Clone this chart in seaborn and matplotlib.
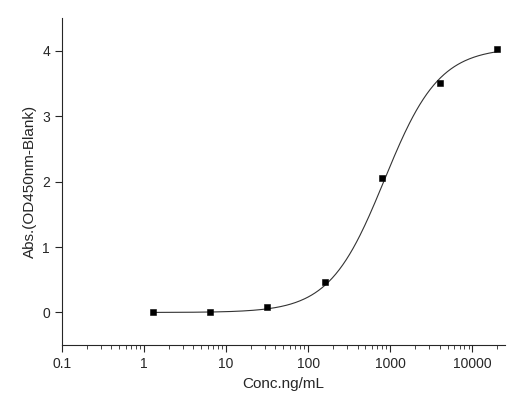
import numpy as np
import pandas as pd
import matplotlib
matplotlib.use("Agg")
import matplotlib.pyplot as plt
import seaborn as sns

# measured points
conc = [1.28, 6.4, 32, 160, 800, 4000, 20000]
absorb = [0.0, 0.0, 0.08, 0.46, 2.06, 3.5, 4.03]

# 4PL fit parameters (estimated from curve)
fit_bottom = 0.0
fit_top = 4.05
fit_ec50 = 850.0
fit_hill = 1.3

sns.set_style("ticks")
plt.rcParams["font.family"] = ["Liberation Sans", "DejaVu Sans"]

fig, ax = plt.subplots(figsize=(5.2, 4.09), dpi=100)
fig.subplots_adjust(left=0.119, right=0.971, top=0.956, bottom=0.156)

xf = np.logspace(np.log10(conc[0]), np.log10(conc[-1]), 300)
yf = fit_top + (fit_bottom - fit_top) / (1 + (xf / fit_ec50) ** fit_hill)
sns.lineplot(x=xf, y=yf, ax=ax, color="#333333", linewidth=0.8)

df = pd.DataFrame({"conc": conc, "abs": absorb})
sns.scatterplot(data=df, x="conc", y="abs", ax=ax, marker="s", s=24,
                color="black", edgecolor="black", zorder=3)

ax.set_xscale("log")
ax.set_xlim(0.1, 25000)
ax.set_ylim(-0.5, 4.5)
ax.set_xticks([0.1, 1, 10, 100, 1000, 10000])
ax.set_xticklabels(["0.1", "1", "10", "100", "1000", "10000"])
ax.set_yticks([0, 1, 2, 3, 4])
ax.tick_params(direction="out", which="both", labelsize=10)
ax.tick_params(which="major", length=5)
ax.tick_params(which="minor", length=3)
sns.despine(ax=ax)
for s in ax.spines.values():
    s.set_linewidth(0.8)
ax.set_xlabel("Conc.ng/mL", fontsize=11)
ax.set_ylabel("Abs.(OD450nm-Blank)", fontsize=11)

fig.savefig("out.png", dpi=100)
